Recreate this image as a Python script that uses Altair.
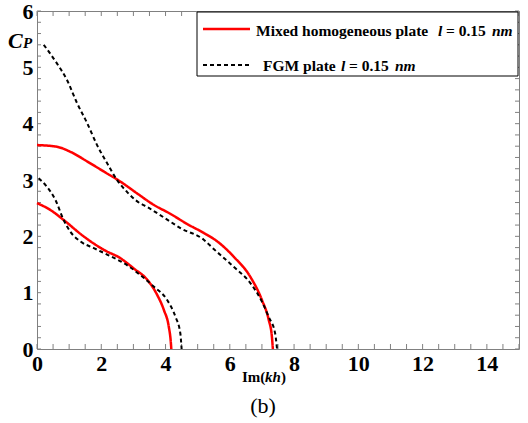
import altair as alt
import pandas as pd
import numpy as np

# ---- data ----
mixed_upper_x = [0, 0.62, 1.04, 1.56, 2.08, 2.6, 3.12, 3.63, 4.15, 4.67, 5.19, 5.61, 6.12, 6.64, 7.0, 7.21, 7.31, 7.34]
mixed_upper_y = [3.62, 3.59, 3.50, 3.33, 3.15, 2.97, 2.76, 2.56, 2.40, 2.22, 2.06, 1.91, 1.64, 1.28, 0.87, 0.52, 0.22, 0.0]

mixed_lower_x = [0, 0.41, 0.83, 1.45, 2.08, 2.6, 3.01, 3.43, 3.74, 3.95, 4.10, 4.16, 4.18]
mixed_lower_y = [2.59, 2.47, 2.29, 2.0, 1.76, 1.61, 1.43, 1.23, 0.96, 0.69, 0.40, 0.15, 0.0]

fgm_upper_x = [0.21, 0.62, 0.93, 1.25, 1.56, 1.87, 2.18, 2.49, 2.80, 3.12, 3.43, 4.15, 4.45, 5.19, 5.49, 6.12, 6.64, 7.0, 7.21, 7.41, 7.47]
fgm_upper_y = [5.40, 5.07, 4.78, 4.36, 4.01, 3.62, 3.30, 3.0, 2.79, 2.62, 2.52, 2.26, 2.15, 1.94, 1.78, 1.46, 1.17, 0.84, 0.57, 0.28, 0.0]

fgm_lower_x = [0.05, 0.31, 0.57, 0.83, 1.04, 1.35, 1.77, 2.28, 2.80, 3.22, 3.63, 4.05, 4.31, 4.46, 4.50]
fgm_lower_y = [3.03, 2.88, 2.65, 2.29, 2.08, 1.91, 1.79, 1.65, 1.49, 1.31, 1.11, 0.87, 0.57, 0.28, 0.0]

x_tick_labels = [0, 2, 4, 6, 8, 10, 12, 14]
y_tick_labels = [0, 1, 2, 3, 4, 5, 6]
x_minor = [i * 0.5 for i in range(31)]
y_minor = [round(i * 0.2, 1) for i in range(31)]

series_names = ["Mixed", "FGM"]

rows = []
for name, curve, xs, ys in [
    ("Mixed", "m1", mixed_upper_x, mixed_upper_y),
    ("Mixed", "m2", mixed_lower_x, mixed_lower_y),
    ("FGM", "f1", fgm_upper_x, fgm_upper_y),
    ("FGM", "f2", fgm_lower_x, fgm_lower_y),
]:
    for xv, yv in zip(xs, ys):
        rows.append({"x": xv, "y": yv, "series": name, "curve": curve})
df = pd.DataFrame(rows)

W, H = 482, 338
SERIF = "Liberation Serif"
GRAY = "#808080"

xscale = alt.Scale(domain=[0, 15], nice=False, zero=False)
yscale = alt.Scale(domain=[0, 6], nice=False, zero=False)

lines = alt.Chart(df).mark_line(interpolate="monotone").encode(
    x=alt.X("x:Q", scale=xscale, axis=alt.Axis(
        values=x_tick_labels, format="d", title=None, grid=False, ticks=False, domain=False,
        labelFont=SERIF, labelFontSize=22, labelFontWeight="bold", labelColor="black",
        labelPadding=4, labelFlush=False)),
    y=alt.Y("y:Q", scale=yscale, axis=alt.Axis(
        values=y_tick_labels, format="d", title=None, grid=False, ticks=False, domain=False,
        labelFont=SERIF, labelFontSize=22, labelFontWeight="bold", labelColor="black",
        labelPadding=4)),
    color=alt.Color("series:N", scale=alt.Scale(domain=series_names, range=["#ff0000", "#000000"]), legend=None),
    strokeDash=alt.StrokeDash("series:N", scale=alt.Scale(domain=series_names, range=[[1, 0], [4, 3]]), legend=None),
    strokeWidth=alt.StrokeWidth("series:N", scale=alt.Scale(domain=series_names, range=[2.5, 2.0]), legend=None),
    detail="curve:N",
)

xt = pd.DataFrame({"v": x_minor})
yt = pd.DataFrame({"v": y_minor})
tick_bottom = alt.Chart(xt).mark_rule(color=GRAY, strokeWidth=1).encode(
    x=alt.X("v:Q", scale=xscale), y=alt.value(H), y2=alt.value(H - 5))
tick_top = alt.Chart(xt).mark_rule(color=GRAY, strokeWidth=1).encode(
    x=alt.X("v:Q", scale=xscale), y=alt.value(0), y2=alt.value(5))
tick_left = alt.Chart(yt).mark_rule(color=GRAY, strokeWidth=1).encode(
    y=alt.Y("v:Q", scale=yscale), x=alt.value(0), x2=alt.value(4))
tick_right = alt.Chart(yt).mark_rule(color=GRAY, strokeWidth=1).encode(
    y=alt.Y("v:Q", scale=yscale), x=alt.value(W), x2=alt.value(W - 4))

one = alt.Data(values=[{}])

def txt(s, x, y, size, weight="bold", style="normal", font=SERIF, align="left"):
    return alt.Chart(one).mark_text(
        text=s, align=align, baseline="alphabetic", font=font, fontSize=size,
        fontWeight=weight, fontStyle=style, color="black"
    ).encode(x=alt.value(x), y=alt.value(y))

# legend box
leg_box = alt.Chart(one).mark_rect(fill="white", stroke="black", strokeWidth=1).encode(
    x=alt.value(160), x2=alt.value(481), y=alt.value(1), y2=alt.value(65))
leg_red = alt.Chart(one).mark_rule(color="#ff0000", strokeWidth=2.5).encode(
    x=alt.value(166), x2=alt.value(213), y=alt.value(18))
leg_blk = alt.Chart(one).mark_rule(color="#000000", strokeWidth=2, strokeDash=[4, 3]).encode(
    x=alt.value(166), x2=alt.value(213), y=alt.value(54))

LS = 15.5
legend_texts = [
    txt("Mixed homogeneous plate", 219, 25, LS),
    txt("l", 401, 25, LS, style="italic"),
    txt("= 0.15", 409, 25, LS),
    txt("nm", 455, 25, LS, style="italic"),
    txt("FGM plate", 226, 60, LS),
    txt("l", 304, 60, LS, style="italic"),
    txt("= 0.15", 312, 60, LS),
    txt("nm", 358, 60, LS, style="italic"),
]

annot = [
    txt("C", -29, 37, 22, style="italic"),
    txt("P", -14, 37, 15, style="italic"),
    txt("Im(", 205, 371, 15),
    txt("kh", 228, 371, 15, style="italic"),
    txt(")", 244, 371, 15),
    txt("(b)", 226, 402, 22, weight="normal", align="center"),
]

chart = alt.layer(
    tick_bottom, tick_top, tick_left, tick_right, lines,
    leg_box, leg_red, leg_blk, *legend_texts, *annot
).properties(
    width=W, height=H,
    autosize=alt.AutoSizeParams(type="none"),
    padding={"left": 37, "top": 11, "right": 528 - 37 - W, "bottom": 423 - 11 - H},
    background="white",
).configure_view(stroke=GRAY, strokeWidth=1)

chart.save("out.html", embed_options={"renderer": "svg", "actions": False})
